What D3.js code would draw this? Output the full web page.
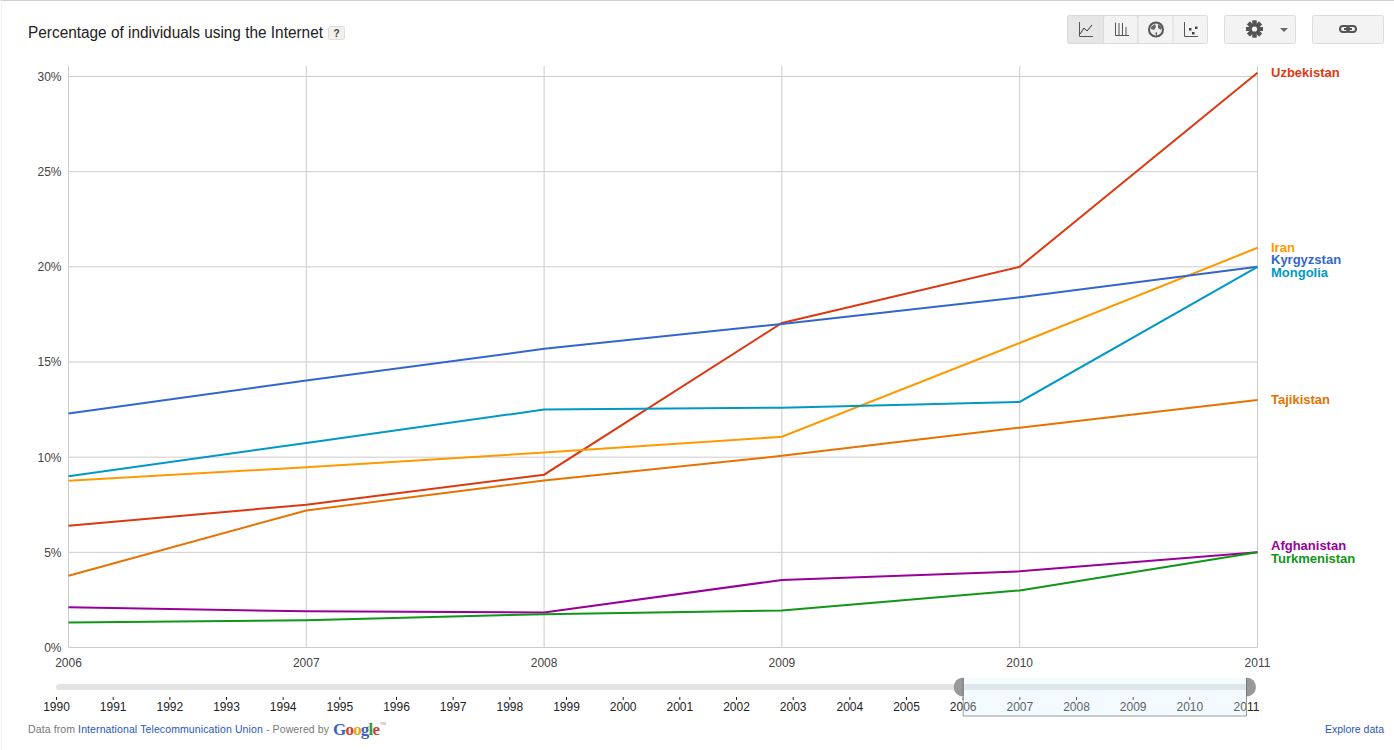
<!DOCTYPE html>
<html lang="en">
<head>
<meta charset="UTF-8">
<title>Percentage of individuals using the Internet</title>
<script src="https://d3js.org/d3.v7.min.js"></script>
<style>
  html, body { margin: 0; padding: 0; background: #fff; overflow: hidden; }
  svg { display: block; font-family: "Liberation Sans", Arial, sans-serif; }
  .tick line { shape-rendering: crispEdges; }
  .domain { display: none; }
</style>
</head>
<body>
<div id="chart"></div>
<script>
// values
var years = [2006, 2007, 2008, 2009, 2010, 2011];
var rangeYears = d3.range(1990, 2012);
var percentTicks = [0, 5, 10, 15, 20, 25, 30];

var uzbekistan = [6.4, 7.5, 9.08, 17.05, 20, 30.2];
var iran = [8.76, 9.47, 10.24, 11.07, 16, 21];
var kyrgyzstan = [12.3, 14.03, 15.69, 17, 18.4, 20];
var mongolia = [9, 10.75, 12.5, 12.6, 12.9, 20];
var tajikistan = [3.77, 7.2, 8.78, 10.07, 11.55, 13];
var afghanistan = [2.11, 1.9, 1.84, 3.55, 4, 5];
var turkmenistan = [1.32, 1.43, 1.75, 1.95, 3, 5];

var seriesNames = ["Uzbekistan", "Iran", "Kyrgyzstan", "Mongolia", "Tajikistan", "Afghanistan", "Turkmenistan"];
var seriesValues = [uzbekistan, iran, kyrgyzstan, mongolia, tajikistan, afghanistan, turkmenistan];
var seriesColors = ["#dc3912", "#ff9900", "#3366cc", "#0099c6", "#e67300", "#990099", "#109618"];

var width = 1394, height = 750;
var svg = d3.select("#chart").append("svg").attr("width", width).attr("height", height);

// page frame
svg.append("rect").attr("width", width).attr("height", 1).attr("fill", "#d0d0d0");
svg.append("rect").attr("x", 1).attr("width", 1).attr("height", height).attr("fill", "#f2f2f2");

// title
svg.append("text").attr("x", 28).attr("y", 37.5).attr("font-size", 16).attr("fill", "#222")
    .attr("textLength", 295).attr("lengthAdjust", "spacingAndGlyphs")
    .text("Percentage of individuals using the Internet");
svg.append("rect").attr("x", 328.5).attr("y", 26.5).attr("width", 16).attr("height", 13).attr("rx", 2)
    .attr("fill", "#f1f1f1").attr("stroke", "#ddd");
svg.append("text").attr("x", 336.5).attr("y", 37).attr("text-anchor", "middle")
    .attr("font-size", 10).attr("font-weight", "bold").attr("fill", "#444").text("?");

// main chart
var x = d3.scaleLinear().domain([2006, 2011]).range([68.5, 1257.5]);
var y = d3.scaleLinear().domain([0, 30]).range([647.5, 76.5]);
var plotTop = 66;

svg.append("g").attr("transform", "translate(68.5,0)")
    .call(d3.axisLeft(y).tickValues(percentTicks).tickSize(0).tickPadding(7).tickFormat(function(d) { return d + "%"; }))
    .call(function(g) {
        g.selectAll("text").attr("font-size", 12).attr("fill", "#444").attr("font-family", "Liberation Sans");
    });

svg.append("g").selectAll("line").data(percentTicks).enter().append("line")
    .attr("x1", x(2006)).attr("x2", x(2011))
    .attr("y1", function(d) { return y(d); }).attr("y2", function(d) { return y(d); })
    .attr("stroke", "#ccc");

svg.append("g").selectAll("line").data(years).enter().append("line")
    .attr("x1", function(d) { return x(d); }).attr("x2", function(d) { return x(d); })
    .attr("y1", plotTop).attr("y2", y(0))
    .attr("stroke", "#ccc");

svg.append("g").selectAll("text").data(years).enter().append("text")
    .attr("x", function(d) { return x(d); }).attr("y", 666.5)
    .attr("text-anchor", "middle").attr("font-size", 12).attr("fill", "#444")
    .text(function(d) { return d; });

var line = d3.line()
    .x(function(d, i) { return x(years[i]); })
    .y(function(d) { return y(d); });

svg.append("g").selectAll("path").data(seriesValues).enter().append("path")
    .attr("d", line)
    .attr("fill", "none")
    .attr("stroke-width", 2)
    .attr("stroke", function(d, i) { return seriesColors[i]; });

// end labels, ones sharing an end value get spread around it
var labels = seriesNames.map(function(name, i) {
    return { name: name, color: seriesColors[i], end: seriesValues[i][years.length - 1] };
});
d3.group(labels, function(d) { return d.end; }).forEach(function(group) {
    group.forEach(function(d, i) {
        d.offset = (i - (group.length - 1) / 2) * 13;
    });
});
svg.append("g").selectAll("text").data(labels).enter().append("text")
    .attr("x", 1271)
    .attr("y", function(d) { return y(d.end) + d.offset; })
    .attr("dy", "0.32em")
    .attr("font-size", 13).attr("font-weight", "bold")
    .attr("fill", function(d) { return d.color; })
    .text(function(d) { return d.name; });

// range selector
var rangeX = d3.scaleLinear().domain([1990, 2011]).range([56.5, 1246.5]);
var sel0 = rangeX(2006), sel1 = rangeX(2011);

svg.append("rect").attr("x", 56).attr("y", 684).attr("width", 1198).attr("height", 6).attr("rx", 3).attr("fill", "#e3e3e3");

svg.append("g").selectAll("line").data(rangeYears).enter().append("line")
    .attr("x1", function(d) { return rangeX(d); }).attr("x2", function(d) { return rangeX(d); })
    .attr("y1", 697).attr("y2", 700).attr("stroke", "#222");

svg.append("g").selectAll("text").data(rangeYears).enter().append("text")
    .attr("x", function(d) { return rangeX(d); }).attr("y", 710.5)
    .attr("text-anchor", "middle").attr("font-size", 12).attr("fill", "#222")
    .text(function(d) { return d; });

// selected window sits on top of the labels
svg.append("rect").attr("x", sel0).attr("y", 678).attr("width", sel1 - sel0).attr("height", 38)
    .attr("fill", "rgb(215,242,255)").attr("fill-opacity", 0.3);
svg.append("path").attr("fill", "none").attr("stroke", "#999")
    .attr("d", d3.line()([[sel0, 678], [sel0, 716], [sel1, 716], [sel1, 678]]));

// grip handles
[[sel0, 0], [sel1, 1]].forEach(function(h) {
    var arc = d3.arc().innerRadius(0).outerRadius(9.5)
        .startAngle(h[1] ? 0 : Math.PI).endAngle(h[1] ? Math.PI : 2 * Math.PI);
    svg.append("path").attr("transform", "translate(" + h[0] + ",687)").attr("d", arc()).attr("fill", "#999");
    svg.append("line").attr("x1", h[0]).attr("x2", h[0]).attr("y1", 678).attr("y2", 696).attr("stroke", "#777");
});

// footer
var footer = svg.append("text").attr("x", 28).attr("y", 733).attr("font-size", 10.5).attr("fill", "#777")
    .attr("textLength", 301).attr("lengthAdjust", "spacing");
footer.append("tspan").text("Data from ");
footer.append("tspan").attr("fill", "#2a55c0").text("International Telecommunication Union");
footer.append("tspan").text(" - Powered by");

var logo = svg.append("text").attr("x", 333).attr("y", 735).attr("font-family", "Liberation Serif")
    .attr("font-size", 17).attr("font-weight", "bold").attr("letter-spacing", -0.8);
["#3a62c8", "#d9402a", "#e8a80c", "#3a62c8", "#2f9a3a", "#d9402a"].forEach(function(c, i) {
    logo.append("tspan").attr("fill", c).text("Google"[i]);
});
svg.append("text").attr("x", 380).attr("y", 725).attr("font-size", 4).attr("fill", "#888").text("TM");

svg.append("text").attr("x", 1384).attr("y", 733).attr("text-anchor", "end").attr("font-size", 10.5)
    .attr("fill", "#2a55c0").text("Explore data");

// toolbar
var toolbar = svg.append("g");
function button(bx, w, fill) {
    toolbar.append("rect").attr("x", bx + 0.5).attr("y", 15.5).attr("width", w).attr("height", 28).attr("rx", 2)
        .attr("fill", fill).attr("stroke", "#dcdcdc");
}
var bg = "#f3f3f3";
button(1067, 140, bg);
button(1067, 36, "#e6e6e6");
button(1103, 34.5, bg);
button(1137.5, 35, bg);
button(1224, 71, bg);
button(1312, 71, bg);

function icon(d, stroke, w) {
    toolbar.append("path").attr("d", d).attr("fill", "none").attr("stroke", stroke || "#555").attr("stroke-width", w || 1);
}
// line chart
icon("M1079.5 22V36.5H1093");
icon("M1080 34L1084 28L1087 31L1092 25", "#333");
// bar chart
icon("M1115.5 22.5V35.5H1129M1119 23V35M1122.5 23V35M1126 27V35");
// globe
toolbar.append("circle").attr("cx", 1156).attr("cy", 29.5).attr("r", 7).attr("fill", "#eee").attr("stroke", "#555").attr("stroke-width", 2);
toolbar.append("path").attr("d", "M1151 27L1155 24L1156 27L1154 30L1151 29ZM1158 24L1162 27L1161 30L1158 28ZM1155 33L1157 32L1157 36Z").attr("fill", "#666");
// scatter
icon("M1184.5 22V36.5H1198");
[[1189, 28], [1192, 32], [1195, 26.5]].forEach(function(p) {
    toolbar.append("rect").attr("x", p[0]).attr("y", p[1]).attr("width", 2.5).attr("height", 2.5).attr("fill", "#444");
});
// gear
var gear = toolbar.append("g").attr("transform", "translate(1254.5,29)");
d3.range(8).forEach(function(i) {
    gear.append("rect").attr("x", -2).attr("y", -8.5).attr("width", 4).attr("height", 17).attr("fill", "#555")
        .attr("transform", "rotate(" + i * 45 + ")");
});
gear.append("circle").attr("r", 5).attr("fill", "#555");
gear.append("circle").attr("r", 2.6).attr("fill", bg);
toolbar.append("path").attr("d", "M1280 28H1288L1284 32Z").attr("fill", "#666");
// link
toolbar.append("rect").attr("x", 1340).attr("y", 26).attr("width", 9).attr("height", 6).attr("rx", 3).attr("fill", "none").attr("stroke", "#555").attr("stroke-width", 2);
toolbar.append("rect").attr("x", 1347).attr("y", 26).attr("width", 9).attr("height", 6).attr("rx", 3).attr("fill", "none").attr("stroke", "#555").attr("stroke-width", 2);
toolbar.append("rect").attr("x", 1344).attr("y", 28).attr("width", 8).attr("height", 2).attr("fill", "#555");
</script>
</body>
</html>
